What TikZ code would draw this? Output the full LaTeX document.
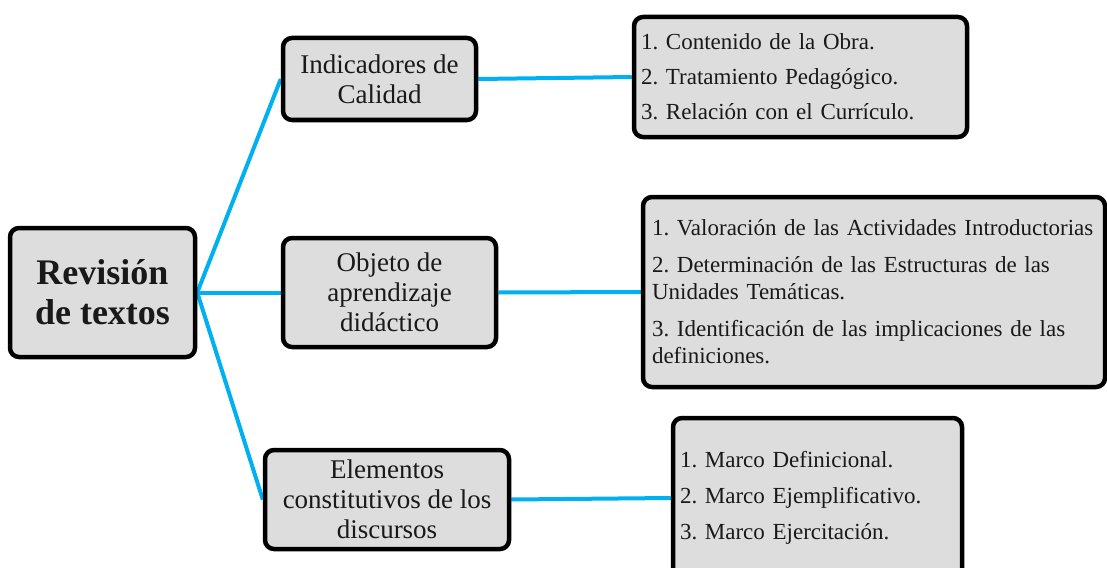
\documentclass[tikz,border=0pt]{standalone}
\usepackage{fontspec}
\setmainfont{Liberation Serif}
\usetikzlibrary{backgrounds}
\definecolor{boxfill}{HTML}{DDDDDD}
\definecolor{linkcol}{HTML}{00B0F0}
\tikzset{
  box/.style={draw=black, line width=4.5pt, rounded corners=9pt, fill=boxfill,
    inner sep=0pt, align=center, text=black!90},
  mainbox/.style={box, font=\fontsize{36}{40}\selectfont\bfseries},
  subbox/.style={box, font=\fontsize{27}{30}\selectfont},
  listbox/.style={box, align=left, inner xsep=7pt, font=\frenchspacing\fontsize{23}{27}\selectfont},
  link/.style={draw=linkcol, line width=4pt}
}
\begin{document}
\begin{tikzpicture}[x=1pt,y=-1pt]
\useasboundingbox (0,0) rectangle (1107,567);
\node[mainbox, minimum width=185pt, minimum height=129pt] (main) at (102.5,292.5) {Revisión\\de textos};
\node[subbox, minimum width=193pt, minimum height=82pt] (ind) at (379.5,79) {Indicadores de\\Calidad};
\node[subbox, minimum width=213pt, minimum height=109pt] (obj) at (389.5,292.5) {Objeto de\\aprendizaje\\didáctico};
\node[subbox, minimum width=244pt, minimum height=99pt] (ele) at (387,499.5) {Elementos\\constitutivos de los\\discursos};
\node[listbox, text width=319pt, minimum height=120pt] (r1) at (800.5,77)
  {1. Contenido de la Obra.\\[8pt]2. Tratamiento Pedagógico.\\[8pt]3. Relación con el Currículo.};
\node[listbox, inner xsep=9pt, text width=444pt, minimum height=190pt] (r2) at (874,292)
  {1. Valoración de las Actividades Introductorias\\[10pt]2. Determinación de las Estructuras de las\\Unidades Temáticas.\\[10pt]3. Identificación de las implicaciones de las\\definiciones.};
\node[listbox, text width=275pt, minimum height=160pt] (r3) at (817.5,498)
  {1. Marco Definicional.\\[9pt]2. Marco Ejemplificativo.\\[9pt]3. Marco Ejercitación.};
\begin{scope}[on background layer]
\draw[link] (main.east) -- (ind.west);
\draw[link] (main.east) -- (obj.west);
\draw[link] (main.east) -- (ele.west);
\draw[link] (ind.east) -- (r1.west);
\draw[link] (obj.east) -- (r2.west);
\draw[link] (ele.east) -- (r3.west);
\end{scope}
\end{tikzpicture}
\end{document}
